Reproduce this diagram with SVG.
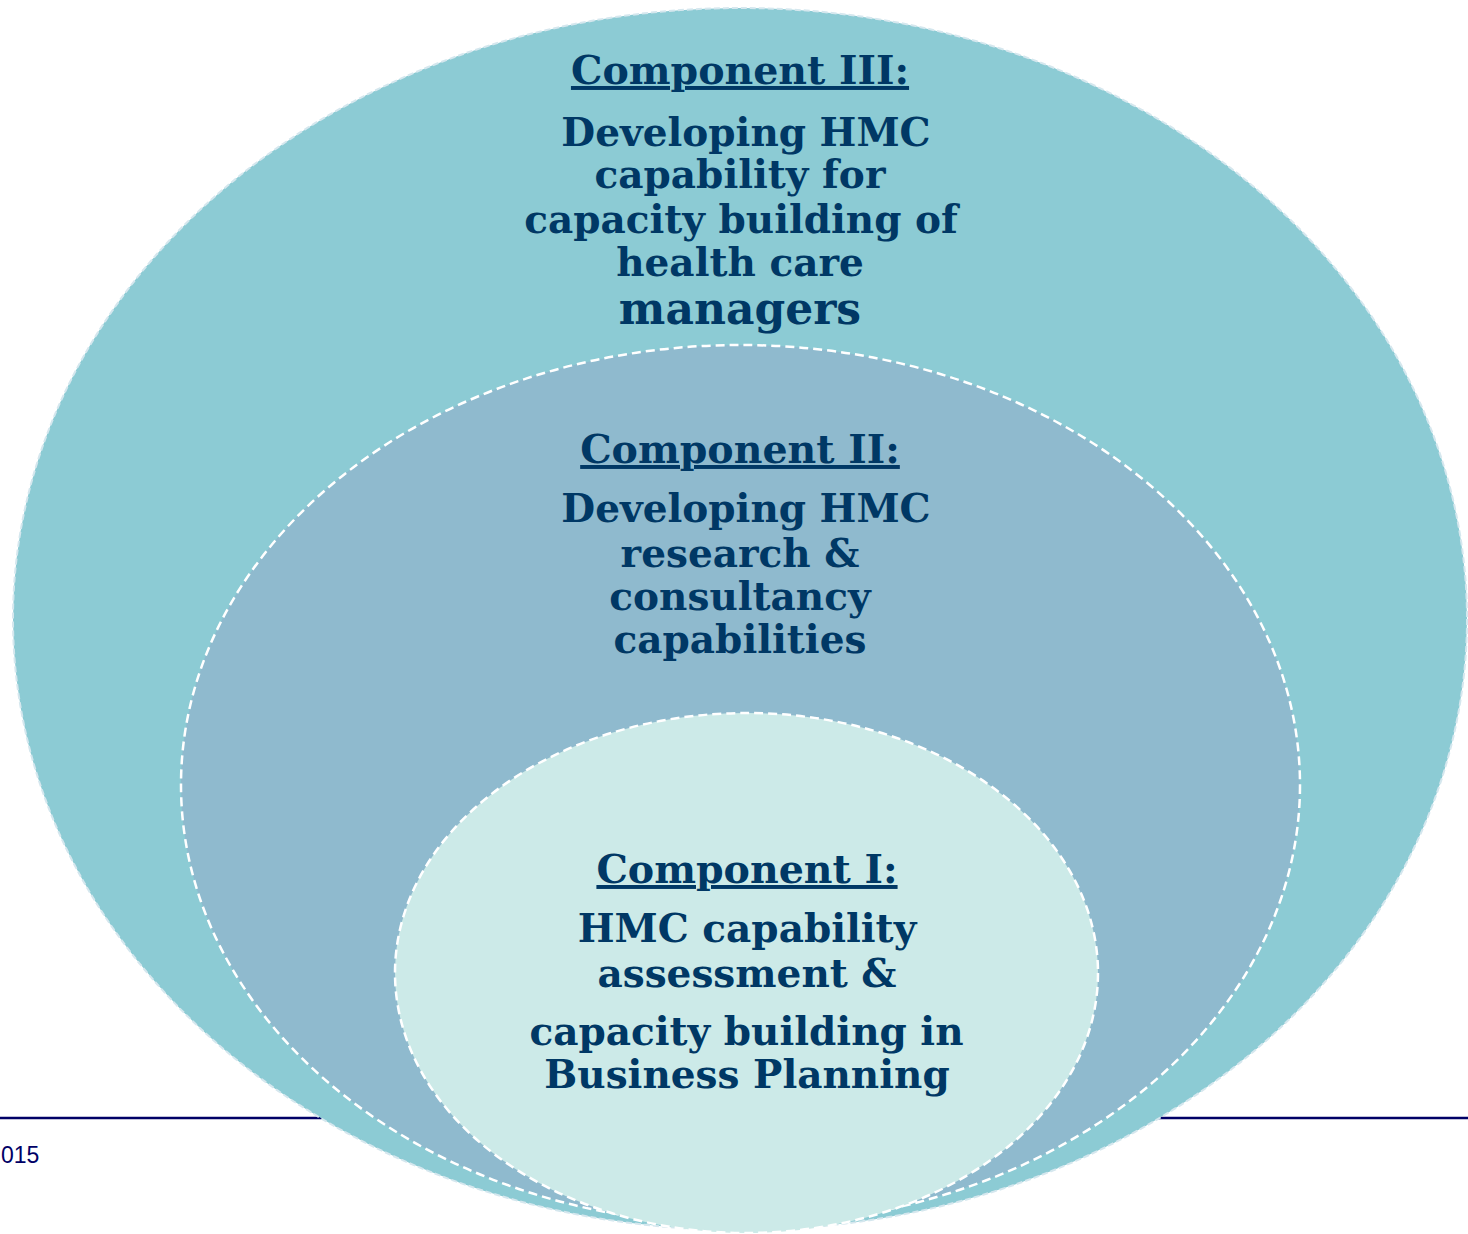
<svg xmlns="http://www.w3.org/2000/svg" width="1468" height="1234" viewBox="0 0 1468 1234">
<style>
.t{font-family:"DejaVu Serif","Liberation Serif",serif;font-weight:bold;fill:#003865;text-anchor:middle;font-size:39px}
.h{text-decoration:underline;font-size:39.5px}
.d{stroke:#ffffff;stroke-width:2.5;stroke-dasharray:9 5}
</style>
<rect width="1468" height="1234" fill="#ffffff"/>
<g id="footer">
<line x1="0" y1="1118" x2="1468" y2="1118" stroke="#000066" stroke-width="2.5"/>
<text x="1" y="1163" font-family="Liberation Sans, Arial, sans-serif" font-size="23" fill="#000066">015</text>
</g>
<g id="component3">
<ellipse cx="740" cy="619" rx="727" ry="611" fill="#8CCBD4" stroke="#D5E7EE" stroke-width="2" stroke-dasharray="6 3"/>
<text class="t h" x="740" y="84">Component III:</text>
<text class="t" x="746" y="146">Developing HMC</text>
<text class="t" x="740" y="188">capability for</text>
<text class="t" x="741" y="233">capacity building of</text>
<text class="t" x="740" y="276">health care</text>
<text class="t" x="740" y="324" style="font-size:44px">managers</text>
</g>
<g id="component2">
<ellipse cx="740.5" cy="785" rx="559.5" ry="440" class="d" style="fill:#8FBACE"/>
<text class="t h" x="740" y="463">Component II:</text>
<text class="t" x="746" y="522">Developing HMC</text>
<text class="t" x="740" y="567">research &amp;</text>
<text class="t" x="740" y="610">consultancy</text>
<text class="t" x="740" y="653">capabilities</text>
</g>
<g id="component1">
<ellipse cx="746.5" cy="973" rx="351.5" ry="260" class="d" style="fill:#CCEAE8"/>
<text class="t h" x="747" y="883">Component I:</text>
<text class="t" x="747" y="942">HMC capability</text>
<text class="t" x="747" y="987">assessment &amp;</text>
<text class="t" x="746.5" y="1045">capacity building in</text>
<text class="t" x="747" y="1088">Business Planning</text>
</g>
<g id="connectors"/>
</svg>
